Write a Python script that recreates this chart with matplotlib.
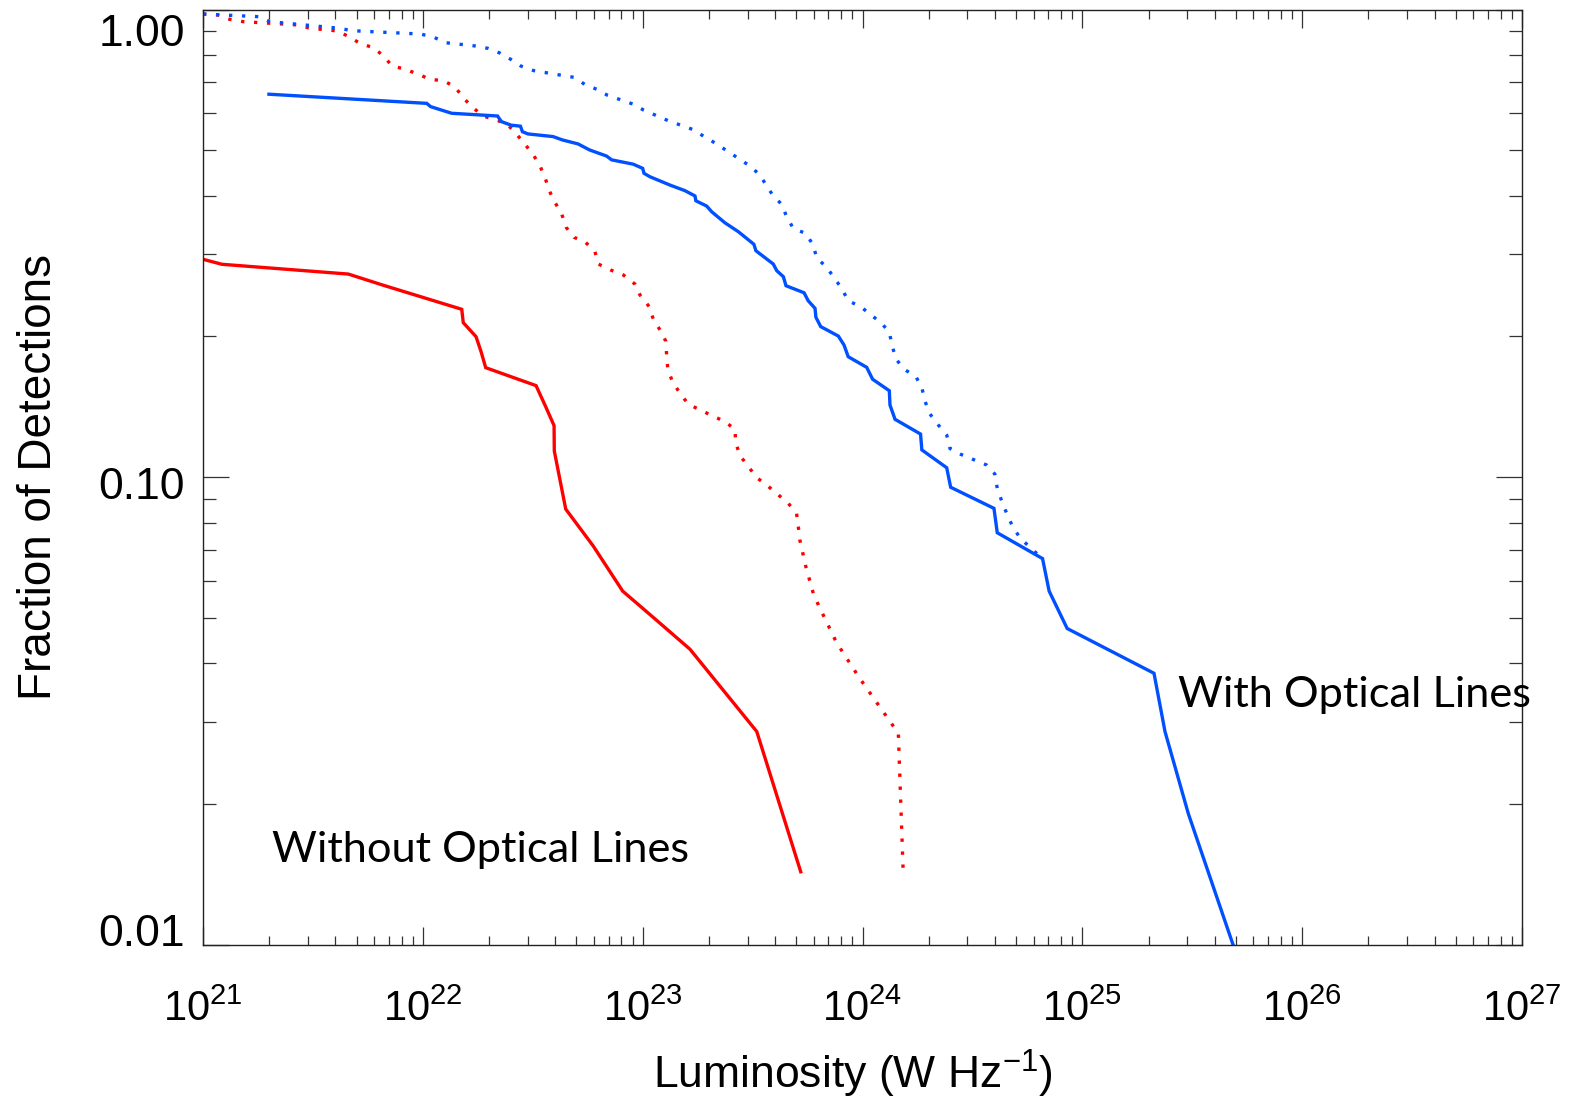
import numpy as np
import matplotlib
matplotlib.use("Agg")
import matplotlib.pyplot as plt
from matplotlib.ticker import LogLocator, NullFormatter, LogFormatterSciNotation
from matplotlib.transforms import ScaledTranslation

plt.rcParams['font.family'] = ['Liberation Sans', 'DejaVu Sans']
plt.rcParams['mathtext.fontset'] = 'custom'
plt.rcParams['mathtext.rm'] = 'Liberation Sans'
plt.rcParams['mathtext.it'] = 'Liberation Sans:italic'
plt.rcParams['mathtext.bf'] = 'Liberation Sans:bold'

# ---- data (log10 luminosity in W/Hz, fraction of detections) ----
with_solid_logL = [21.300, 22.018, 22.035, 22.131, 22.340, 22.357, 22.401, 22.444, 22.453, 22.478,
                   22.592, 22.636, 22.706, 22.758, 22.836, 22.859, 22.957, 23.000, 23.006, 23.033,
                   23.124, 23.192, 23.238, 23.242, 23.291, 23.314, 23.374, 23.435, 23.506, 23.515,
                   23.594, 23.610, 23.640, 23.652, 23.734, 23.753, 23.784, 23.788, 23.810, 23.890,
                   23.916, 23.935, 24.019, 24.046, 24.122, 24.125, 24.148, 24.264, 24.270, 24.383,
                   24.401, 24.598, 24.613, 24.819, 24.849, 24.931, 25.326, 25.376, 25.482, 25.686]
with_solid_frac = [0.659, 0.630, 0.620, 0.600, 0.592, 0.576, 0.566, 0.563, 0.548, 0.542,
                   0.535, 0.526, 0.516, 0.501, 0.486, 0.477, 0.467, 0.4575, 0.4465, 0.439,
                   0.4214, 0.410, 0.3994, 0.390, 0.380, 0.3695, 0.350, 0.335, 0.3148, 0.305,
                   0.2857, 0.2764, 0.2684, 0.2567, 0.248, 0.2384, 0.2297, 0.2198, 0.2099, 0.2004,
                   0.1917, 0.1810, 0.1718, 0.1620, 0.1531, 0.1427, 0.1330, 0.1237, 0.1144, 0.1048,
                   0.0952, 0.0858, 0.0761, 0.0670, 0.0571, 0.0475, 0.0381, 0.0286, 0.0191, 0.0100]

with_dot_logL = [21.000, 21.259, 21.305, 21.617, 21.678, 21.992, 22.053, 22.105, 22.235, 22.296,
                 22.348, 22.401, 22.446, 22.505, 22.688, 22.740, 22.792, 22.839, 22.955, 23.003,
                 23.116, 23.235, 23.279, 23.332, 23.435, 23.488, 23.530, 23.560, 23.591, 23.632,
                 23.655, 23.685, 23.741, 23.776, 23.791, 23.837, 23.905, 23.935, 23.992, 24.087,
                 24.122, 24.135, 24.152, 24.190, 24.243, 24.270, 24.284, 24.307, 24.345, 24.383,
                 24.398, 24.448, 24.565, 24.602, 24.613, 24.633, 24.656, 24.683, 24.716, 24.762,
                 24.819]
with_dot_frac = [0.978, 0.965, 0.942, 0.912, 0.901, 0.886, 0.871, 0.849, 0.836, 0.826,
                 0.808, 0.782, 0.757, 0.740, 0.716, 0.690, 0.675, 0.656, 0.628, 0.610,
                 0.5785, 0.5525, 0.535, 0.5174, 0.4807, 0.4628, 0.4443, 0.4229, 0.4013, 0.3833,
                 0.3606, 0.3405, 0.3322, 0.3137, 0.2947, 0.2811, 0.2535, 0.2384, 0.2315, 0.2134,
                 0.2041, 0.1911, 0.1790, 0.1701, 0.1641, 0.1554, 0.1455, 0.1365, 0.1293, 0.1231,
                 0.1152, 0.1119, 0.1062, 0.1016, 0.0947, 0.0890, 0.0837, 0.0784, 0.0743, 0.0708,
                 0.0670]

without_solid_logL = [21.000, 21.086, 21.661, 21.817, 22.177, 22.184, 22.242, 22.265, 22.286, 22.515,
                      22.559, 22.597, 22.598, 22.650, 22.775, 22.909, 23.041, 23.215, 23.519, 23.719]
without_solid_frac = [0.2924, 0.2853, 0.2719, 0.2576, 0.2286, 0.2140, 0.1998, 0.1855, 0.1715, 0.1570,
                      0.1415, 0.1289, 0.1138, 0.0855, 0.0713, 0.0571, 0.0505, 0.0429, 0.0286, 0.01434]

without_dot_logL = [21.000, 21.068, 21.121, 21.182, 21.364, 21.426, 21.487, 21.609, 21.664, 21.713,
                    21.773, 21.817, 21.861, 21.922, 22.035, 22.096, 22.148, 22.183, 22.226, 22.274,
                    22.336, 22.383, 22.423, 22.461, 22.500, 22.531, 22.557, 22.575, 22.601, 22.632,
                    22.653, 22.688, 22.740, 22.783, 22.798, 22.854, 22.912, 22.965, 22.988, 23.030,
                    23.048, 23.079, 23.105, 23.109, 23.114, 23.135, 23.170, 23.207, 23.261, 23.374,
                    23.420, 23.423, 23.443, 23.519, 23.569, 23.662, 23.700, 23.708, 23.715, 23.743,
                    23.776, 23.801, 23.829, 23.882, 23.985, 24.163, 24.185]
without_dot_frac = [0.978, 0.973, 0.953, 0.942, 0.931, 0.927, 0.912, 0.900, 0.875, 0.847,
                    0.829, 0.799, 0.757, 0.745, 0.709, 0.704, 0.682, 0.648, 0.618, 0.592,
                    0.580, 0.569, 0.5437, 0.5174, 0.491, 0.4652, 0.4356, 0.410, 0.387, 0.365,
                    0.3416, 0.3258, 0.318, 0.3035, 0.2857, 0.2774, 0.2707, 0.2588, 0.2452, 0.2315,
                    0.218, 0.2064, 0.1955, 0.1826, 0.1709, 0.1601, 0.1512, 0.1434, 0.1393, 0.1315,
                    0.1266, 0.1186, 0.1112, 0.0998, 0.0958, 0.0880, 0.0837, 0.0784, 0.0734, 0.0642,
                    0.0565, 0.0531, 0.0499, 0.0443, 0.0373, 0.02835, 0.01434]

ytick_values = [0.01, 0.1, 1.0]
ytick_labels = ['0.01', '0.10', '1.00']
label_with = 'With Optical Lines'
label_without = 'Without Optical Lines'

BLUE = '#0050ff'
RED = '#ff0000'

fig = plt.figure(figsize=(15.70, 11.04), dpi=100)
ax = fig.add_axes([203/1570, 1 - 945/1104, (1522 - 203)/1570, (945 - 9.5)/1104])

lw = 2.4
dot = (0, (1, 2.9))
ax.plot(10**np.array(without_solid_logL), without_solid_frac, color=RED, lw=lw, solid_joinstyle='miter')
ax.plot(10**np.array(without_dot_logL), without_dot_frac, color=RED, lw=lw, linestyle=dot)
ax.plot(10**np.array(with_dot_logL), with_dot_frac, color=BLUE, lw=lw, linestyle=dot)
ax.plot(10**np.array(with_solid_logL), with_solid_frac, color=BLUE, lw=lw, solid_joinstyle='miter')

ax.set_xscale('log')
ax.set_yscale('log')
ax.set_xlim(1e21, 1e27)
ax.set_ylim(0.01, 1.0)

ax.xaxis.set_major_locator(LogLocator(base=10, numticks=20))
ax.xaxis.set_minor_locator(LogLocator(base=10, subs=np.arange(2, 10), numticks=100))
ax.xaxis.set_major_formatter(LogFormatterSciNotation())
ax.xaxis.set_minor_formatter(NullFormatter())
ax.set_yticks(ytick_values)
ax.set_yticklabels(ytick_labels)
ax.yaxis.set_minor_locator(LogLocator(base=10, subs=np.arange(2, 10), numticks=100))
ax.yaxis.set_minor_formatter(NullFormatter())

ax.tick_params(axis='both', which='both', direction='in', top=True, right=True, width=0.9, color='#333333')
ax.tick_params(axis='x', which='major', length=13, pad=32, labelsize=30)
ax.tick_params(axis='x', which='minor', length=6.5)
ax.tick_params(axis='y', which='major', length=19, pad=13, labelsize=32)
ax.tick_params(axis='y', which='minor', length=9.5)
for s in ax.spines.values():
    s.set_linewidth(1.0)
    s.set_color('#222222')

# shift y tick labels vertically as in the reference
offsets_px = [15, -6, -21]
for lab, dy in zip(ax.get_yticklabels(), offsets_px):
    lab.set_transform(lab.get_transform() + ScaledTranslation(0, dy / 100, fig.dpi_scale_trans))

ax.set_xlabel(r'Luminosity (W Hz$^{-1}$)', fontsize=32)
ax.xaxis.set_label_coords(0.493, -0.110)
ax.set_ylabel('Fraction of Detections', fontsize=33)
ax.yaxis.set_label_coords(-0.108, 0.5)

fig.text(1178/1570, 1 - 706.7/1104, label_with, fontsize=31.2, family=['Lato', 'DejaVu Sans'],
         ha='left', va='baseline')
fig.text(272/1570, 1 - 862/1104, label_without, fontsize=31.2, family=['Lato', 'DejaVu Sans'],
         ha='left', va='baseline')

fig.savefig('out.png', dpi=100)
